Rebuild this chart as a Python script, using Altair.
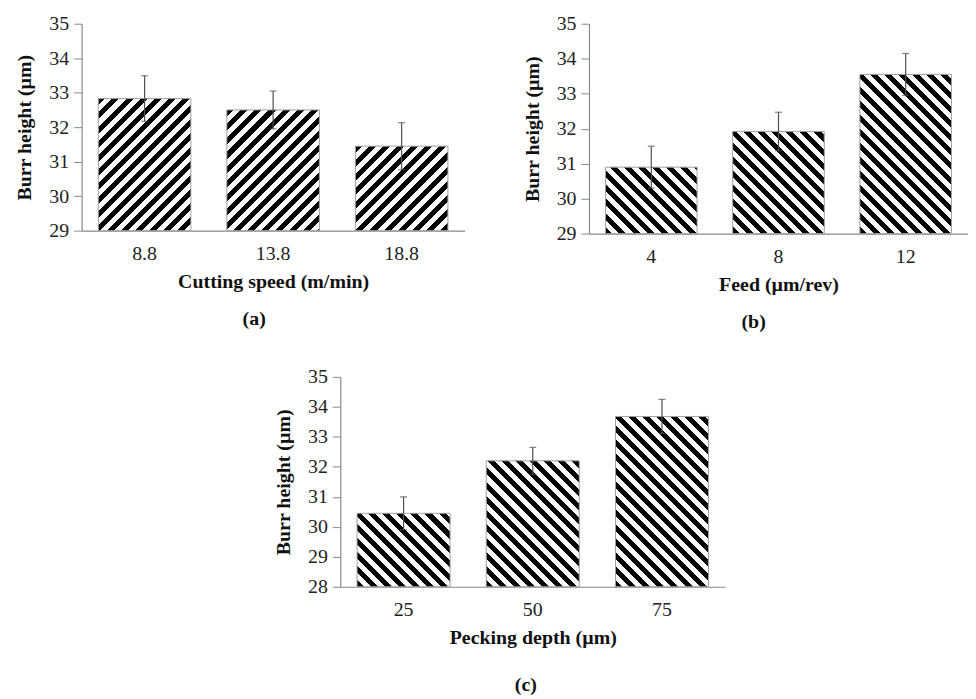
import math
import altair as alt
import pandas as pd

# ---- data ----
speed_cats = ["8.8", "13.8", "18.8"]
speed_burr = [32.83, 32.50, 31.45]
speed_err = [0.66, 0.55, 0.68]

feed_cats = ["4", "8", "12"]
feed_burr = [30.90, 31.92, 33.55]
feed_err = [0.60, 0.55, 0.60]

peck_cats = ["25", "50", "75"]
peck_burr = [30.45, 32.20, 33.68]
peck_err = [0.55, 0.45, 0.57]

FONT = "Liberation Serif"
FS = 20
PAD_IN = 0.28
PAD_OUT = 0.13


def stripe_fill(w, h, slant, period=10.0, frac=0.5):
    """Linear gradient with hard stops giving 45-degree hatch stripes."""
    k = (w + h) / (w * w + h * h)
    L = (w + h) / math.sqrt(2)
    stops = []
    d = 0.0
    while d < L - 1e-9:
        b_end = min(d + frac * period, L)
        w_end = min(d + period, L)
        stops += [(d / L, "#000000"), (b_end / L, "#000000"),
                  (b_end / L, "#ffffff"), (w_end / L, "#ffffff")]
        d += period
    if slant == "/":
        x1, y1, x2, y2 = 0, 0, k * w, k * h
    else:
        x1, y1, x2, y2 = 0, 1, k * w, 1 - k * h
    return alt.LinearGradient(
        gradient="linear",
        stops=[alt.GradientStop(offset=round(o, 5), color=c) for o, c in stops],
        x1=x1, y1=y1, x2=x2, y2=y2,
    )


def panel(cats, vals, errs, xtitle, label, ymin, ymax, slant, W, H,
          label_dx, label_offset):
    df = pd.DataFrame({
        "cat": cats,
        "val": vals,
        "lo": [v - e for v, e in zip(vals, errs)],
        "hi": [v + e for v, e in zip(vals, errs)],
    })
    n = len(cats)
    step = W / (n - PAD_IN + 2 * PAD_OUT)
    bw = step * (1 - PAD_IN)

    xenc = alt.X("cat:N", sort=cats, title=xtitle,
                 scale=alt.Scale(paddingInner=PAD_IN, paddingOuter=PAD_OUT),
                 axis=alt.Axis(labelAngle=0, ticks=False, labelPadding=13,
                               titlePadding=8))
    yscale = alt.Scale(domain=[ymin, ymax], nice=False, zero=False)
    yaxis = alt.Axis(values=list(range(ymin, ymax + 1)), titlePadding=14,
                     tickSize=8, labelPadding=5, labelOverlap=False)
    ytitle = "Burr height (µm)"

    base = alt.Chart(df)
    layers = []
    for c, v in zip(cats, vals):
        h = (v - ymin) / (ymax - ymin) * H
        layers.append(
            base.transform_filter(alt.datum.cat == c)
            .mark_bar(stroke="#a0a0a0", strokeWidth=1,
                      fill=stripe_fill(bw, h, slant))
            .encode(x=xenc,
                    y=alt.Y("val:Q", scale=yscale, axis=yaxis, title=ytitle),
                    y2=alt.datum(ymin))
        )
    rule = base.mark_rule(color="#505050", strokeWidth=1.2).encode(
        x=xenc, y=alt.Y("lo:Q", scale=yscale, axis=yaxis, title=ytitle),
        y2="hi:Q")
    cap_hi = base.mark_tick(color="#505050", size=7, thickness=1.2).encode(
        x=xenc, y=alt.Y("hi:Q", scale=yscale, axis=yaxis, title=ytitle))
    cap_lo = base.mark_tick(color="#505050", size=7, thickness=1.2).encode(
        x=xenc, y=alt.Y("lo:Q", scale=yscale, axis=yaxis, title=ytitle))

    return alt.layer(*layers, rule, cap_hi, cap_lo).properties(
        width=W, height=H,
        title=alt.TitleParams(label, orient="bottom", anchor="middle",
                              frame="group", dx=label_dx, offset=label_offset,
                              font=FONT, fontSize=FS, fontWeight="bold",
                              color="#111111"),
    )


pa = panel(speed_cats, speed_burr, speed_err, "Cutting speed (m/min)", "(a)",
           29, 35, "/", 385, 208, -19, 18)
pb = panel(feed_cats, feed_burr, feed_err, "Feed (µm/rev)", "(b)",
           29, 35, "\\", 381, 211, -25, 18)
pc = panel(peck_cats, peck_burr, peck_err, "Pecking depth (µm)", "(c)",
           28, 35, "\\", 387, 211, -7, 28)

# invisible spacer that pushes panel (c) to the centre of the page
spacer = (
    alt.Chart(pd.DataFrame({"s": [0]}))
    .mark_point(opacity=0)
    .encode(x=alt.value(0), y=alt.value(0))
    .properties(width=193, height=1)
)

top = alt.hconcat(pa, pb, spacing=58)
bottom = alt.hconcat(spacer, pc, spacing=0)
chart = (
    alt.vconcat(top, bottom, spacing=35)
    .properties(padding={"left": 7, "top": 4, "right": 0, "bottom": 0})
    .configure_view(stroke=None)
    .configure_axis(
        grid=False,
        labelFont=FONT, labelFontSize=FS, labelColor="#222222",
        titleFont=FONT, titleFontSize=FS, titleFontWeight="bold",
        titleColor="#111111",
        domainColor="#888888", tickColor="#888888", domainWidth=1.2,
    )
)

chart.save("out.html", embed_options={"renderer": "svg", "actions": False})
